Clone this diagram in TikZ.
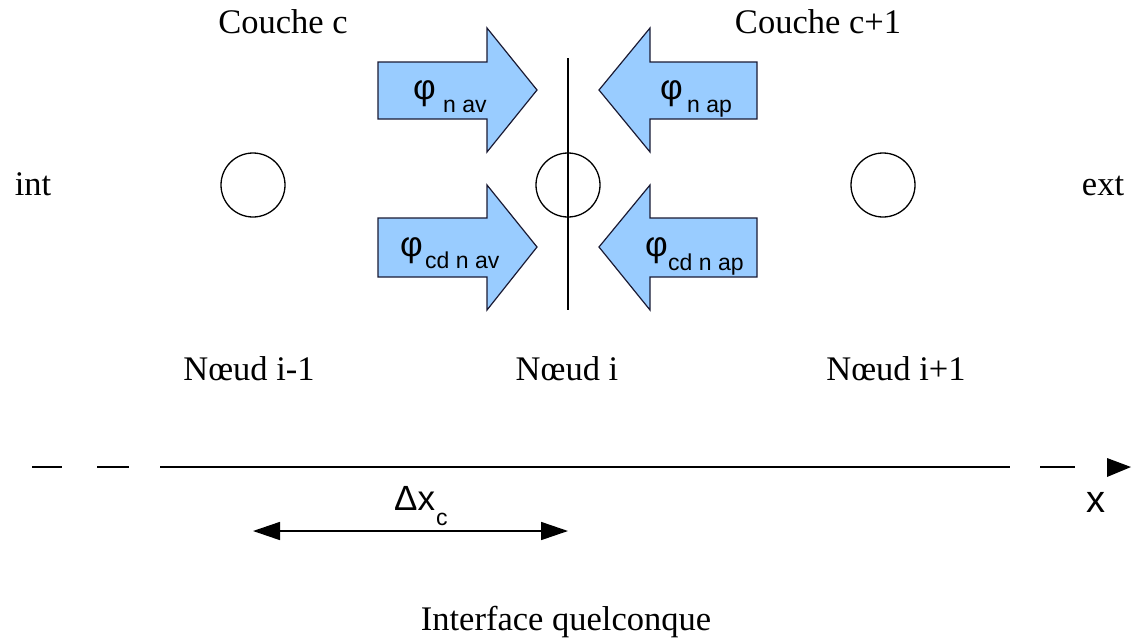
\documentclass[tikz,border=0pt]{standalone}
\usepackage{fontspec}
\setmainfont{Liberation Serif}
\setsansfont{Liberation Sans}
\usetikzlibrary{arrows.meta}
\definecolor{flux}{HTML}{99CCFF}
\definecolor{edge}{HTML}{1A1A33}
\begin{document}
\begin{tikzpicture}[x=1pt,y=-1pt,
  lab/.style={font=\fontsize{34.5}{40}\selectfont, anchor=base, inner sep=0pt},
  phi/.style={font=\sffamily\fontsize{35}{38}\selectfont, anchor=base west, inner sep=0pt},
  sub/.style={font=\sffamily\fontsize{23}{26}\selectfont, anchor=base west, inner sep=0pt},
  nodecirc/.style={circle, draw, line width=1.3pt, minimum size=64pt, inner sep=0pt},
  fluxarrow/.style={fill=flux, draw=edge, line width=1.2pt, line join=miter},
  axis/.style={line width=1.6pt}
]
\useasboundingbox (0,0) rectangle (1134,640);

% labels
\node[lab] (cc) at (283,33) {Couche c};
\node[lab] (cc1) at (818,33) {Couche c+1};
\node[lab] (int) at (33,195) {int};
\node[lab] (ext) at (1103,195) {ext};
\node[lab] (n1) at (249,380) {Nœud i-1};
\node[lab] (n2) at (567,380) {Nœud i};
\node[lab] (n3) at (896,380) {Nœud i+1};
\node[lab] (iq) at (566,630) {Interface quelconque};

% nodes (circles)
\node[nodecirc] (c1) at (253,185) {};
\node[nodecirc] (c2) at (568,185) {};
\node[nodecirc] (c3) at (883,185) {};

% interface line
\coordinate (it) at (568,58);
\coordinate (ib) at (568,310);
\draw[line width=1.3pt] (it) -- (ib);

% flux arrows
\draw[fluxarrow] (378,62) -- (487,62) -- (487,28) -- (537,90) -- (487,152) -- (487,119) -- (378,119) -- cycle;
\draw[fluxarrow] (378,218) -- (487,218) -- (487,185) -- (537,247) -- (487,310) -- (487,277) -- (378,277) -- cycle;
\draw[fluxarrow] (757,62) -- (650,62) -- (650,28) -- (599,90) -- (650,152) -- (650,119) -- (757,119) -- cycle;
\draw[fluxarrow] (757,218) -- (650,218) -- (650,185) -- (599,247) -- (650,310) -- (650,277) -- (757,277) -- cycle;

% flux labels
\node[phi] (p1) at (413,99) {φ};
\node[sub] (s1) at (443,112) {n av};
\node[phi] (p2) at (660,99) {φ};
\node[sub] (s2) at (687,112) {n ap};
\node[phi] (p3) at (400,256) {φ};
\node[sub] (s3) at (425,268) {cd n av};
\node[phi] (p4) at (645,256) {φ};
\node[sub] (s4) at (668,270) {cd n ap};

% axis
\coordinate (a1) at (32,467);  \coordinate (a2) at (62,467);
\coordinate (a3) at (97,467);  \coordinate (a4) at (129,467);
\coordinate (a5) at (160,467); \coordinate (a6) at (1010,467);
\coordinate (a7) at (1040,467); \coordinate (a8) at (1075,467);
\draw[axis] (a1) -- (a2);
\draw[axis] (a3) -- (a4);
\draw[axis] (a5) -- (a6);
\draw[axis] (a7) -- (a8);
\fill (1107,458) -- (1131,467) -- (1107,477) -- cycle;
\node[font=\sffamily\fontsize{38}{42}\selectfont, anchor=base, inner sep=0pt] (xl) at (1096,512) {x};

% delta x
\coordinate (d1) at (253,531);
\coordinate (d2) at (568,531);
\draw[line width=1.6pt, {Triangle[length=27pt,width=18pt]}-{Triangle[length=27pt,width=18pt]}] (d1) -- (d2);
\node[font=\sffamily\fontsize{35}{40}\selectfont, anchor=base west, inner sep=0pt] (dx) at (394,510) {Δx};
\node[sub] (dxc) at (436,525) {c};
\end{tikzpicture}
\end{document}
